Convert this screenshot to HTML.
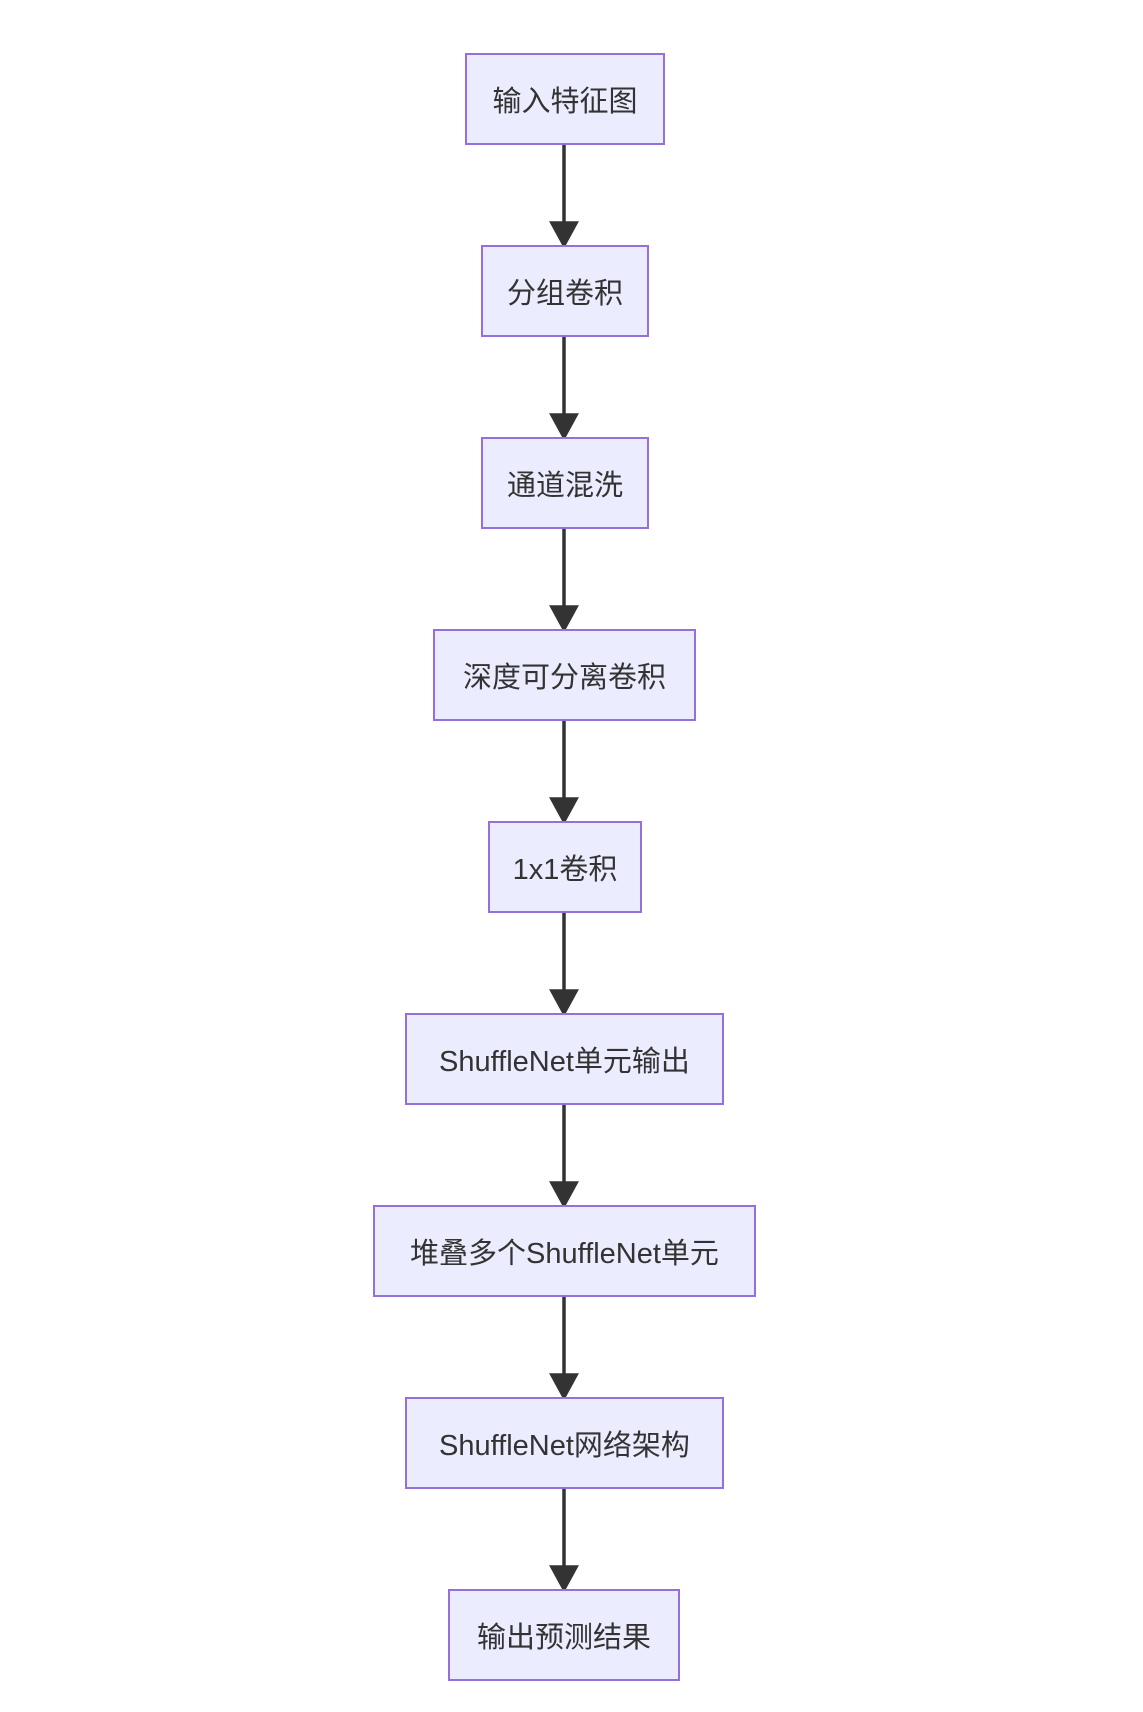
<!DOCTYPE html>
<html><head><meta charset="utf-8"><style>
html,body{margin:0;padding:0;background:#fff;}
body{width:1143px;height:1712px;position:relative;overflow:hidden;}
.n{position:absolute;box-sizing:border-box;height:92px;background:#ECECFF;border:2px solid #9370DB;display:flex;align-items:center;justify-content:center;font-family:"Liberation Sans","Noto Sans CJK SC",sans-serif;font-size:29px;color:#333;white-space:nowrap;}
</style></head><body>
<svg width="1143" height="1712" style="position:absolute;left:0;top:0">
<g stroke="#333" stroke-width="3.5" fill="#333">
<line x1="564" y1="145" x2="564" y2="225"/><polygon points="552,223 576,223 564,245"/>
<line x1="564" y1="337" x2="564" y2="417"/><polygon points="552,415 576,415 564,437"/>
<line x1="564" y1="529" x2="564" y2="609"/><polygon points="552,607 576,607 564,629"/>
<line x1="564" y1="721" x2="564" y2="801"/><polygon points="552,799 576,799 564,821"/>
<line x1="564" y1="913" x2="564" y2="993"/><polygon points="552,991 576,991 564,1013"/>
<line x1="564" y1="1105" x2="564" y2="1185"/><polygon points="552,1183 576,1183 564,1205"/>
<line x1="564" y1="1297" x2="564" y2="1377"/><polygon points="552,1375 576,1375 564,1397"/>
<line x1="564" y1="1489" x2="564" y2="1569"/><polygon points="552,1567 576,1567 564,1589"/>
</g></svg>
<div class="n" style="left:465px;top:53px;width:200px">输入特征图</div>
<div class="n" style="left:481px;top:245px;width:168px">分组卷积</div>
<div class="n" style="left:481px;top:437px;width:168px">通道混洗</div>
<div class="n" style="left:433px;top:629px;width:263px">深度可分离卷积</div>
<div class="n" style="left:488px;top:821px;width:154px">1x1卷积</div>
<div class="n" style="left:405px;top:1013px;width:319px">ShuffleNet单元输出</div>
<div class="n" style="left:373px;top:1205px;width:383px">堆叠多个ShuffleNet单元</div>
<div class="n" style="left:405px;top:1397px;width:319px">ShuffleNet网络架构</div>
<div class="n" style="left:448px;top:1589px;width:232px">输出预测结果</div>
</body></html>
